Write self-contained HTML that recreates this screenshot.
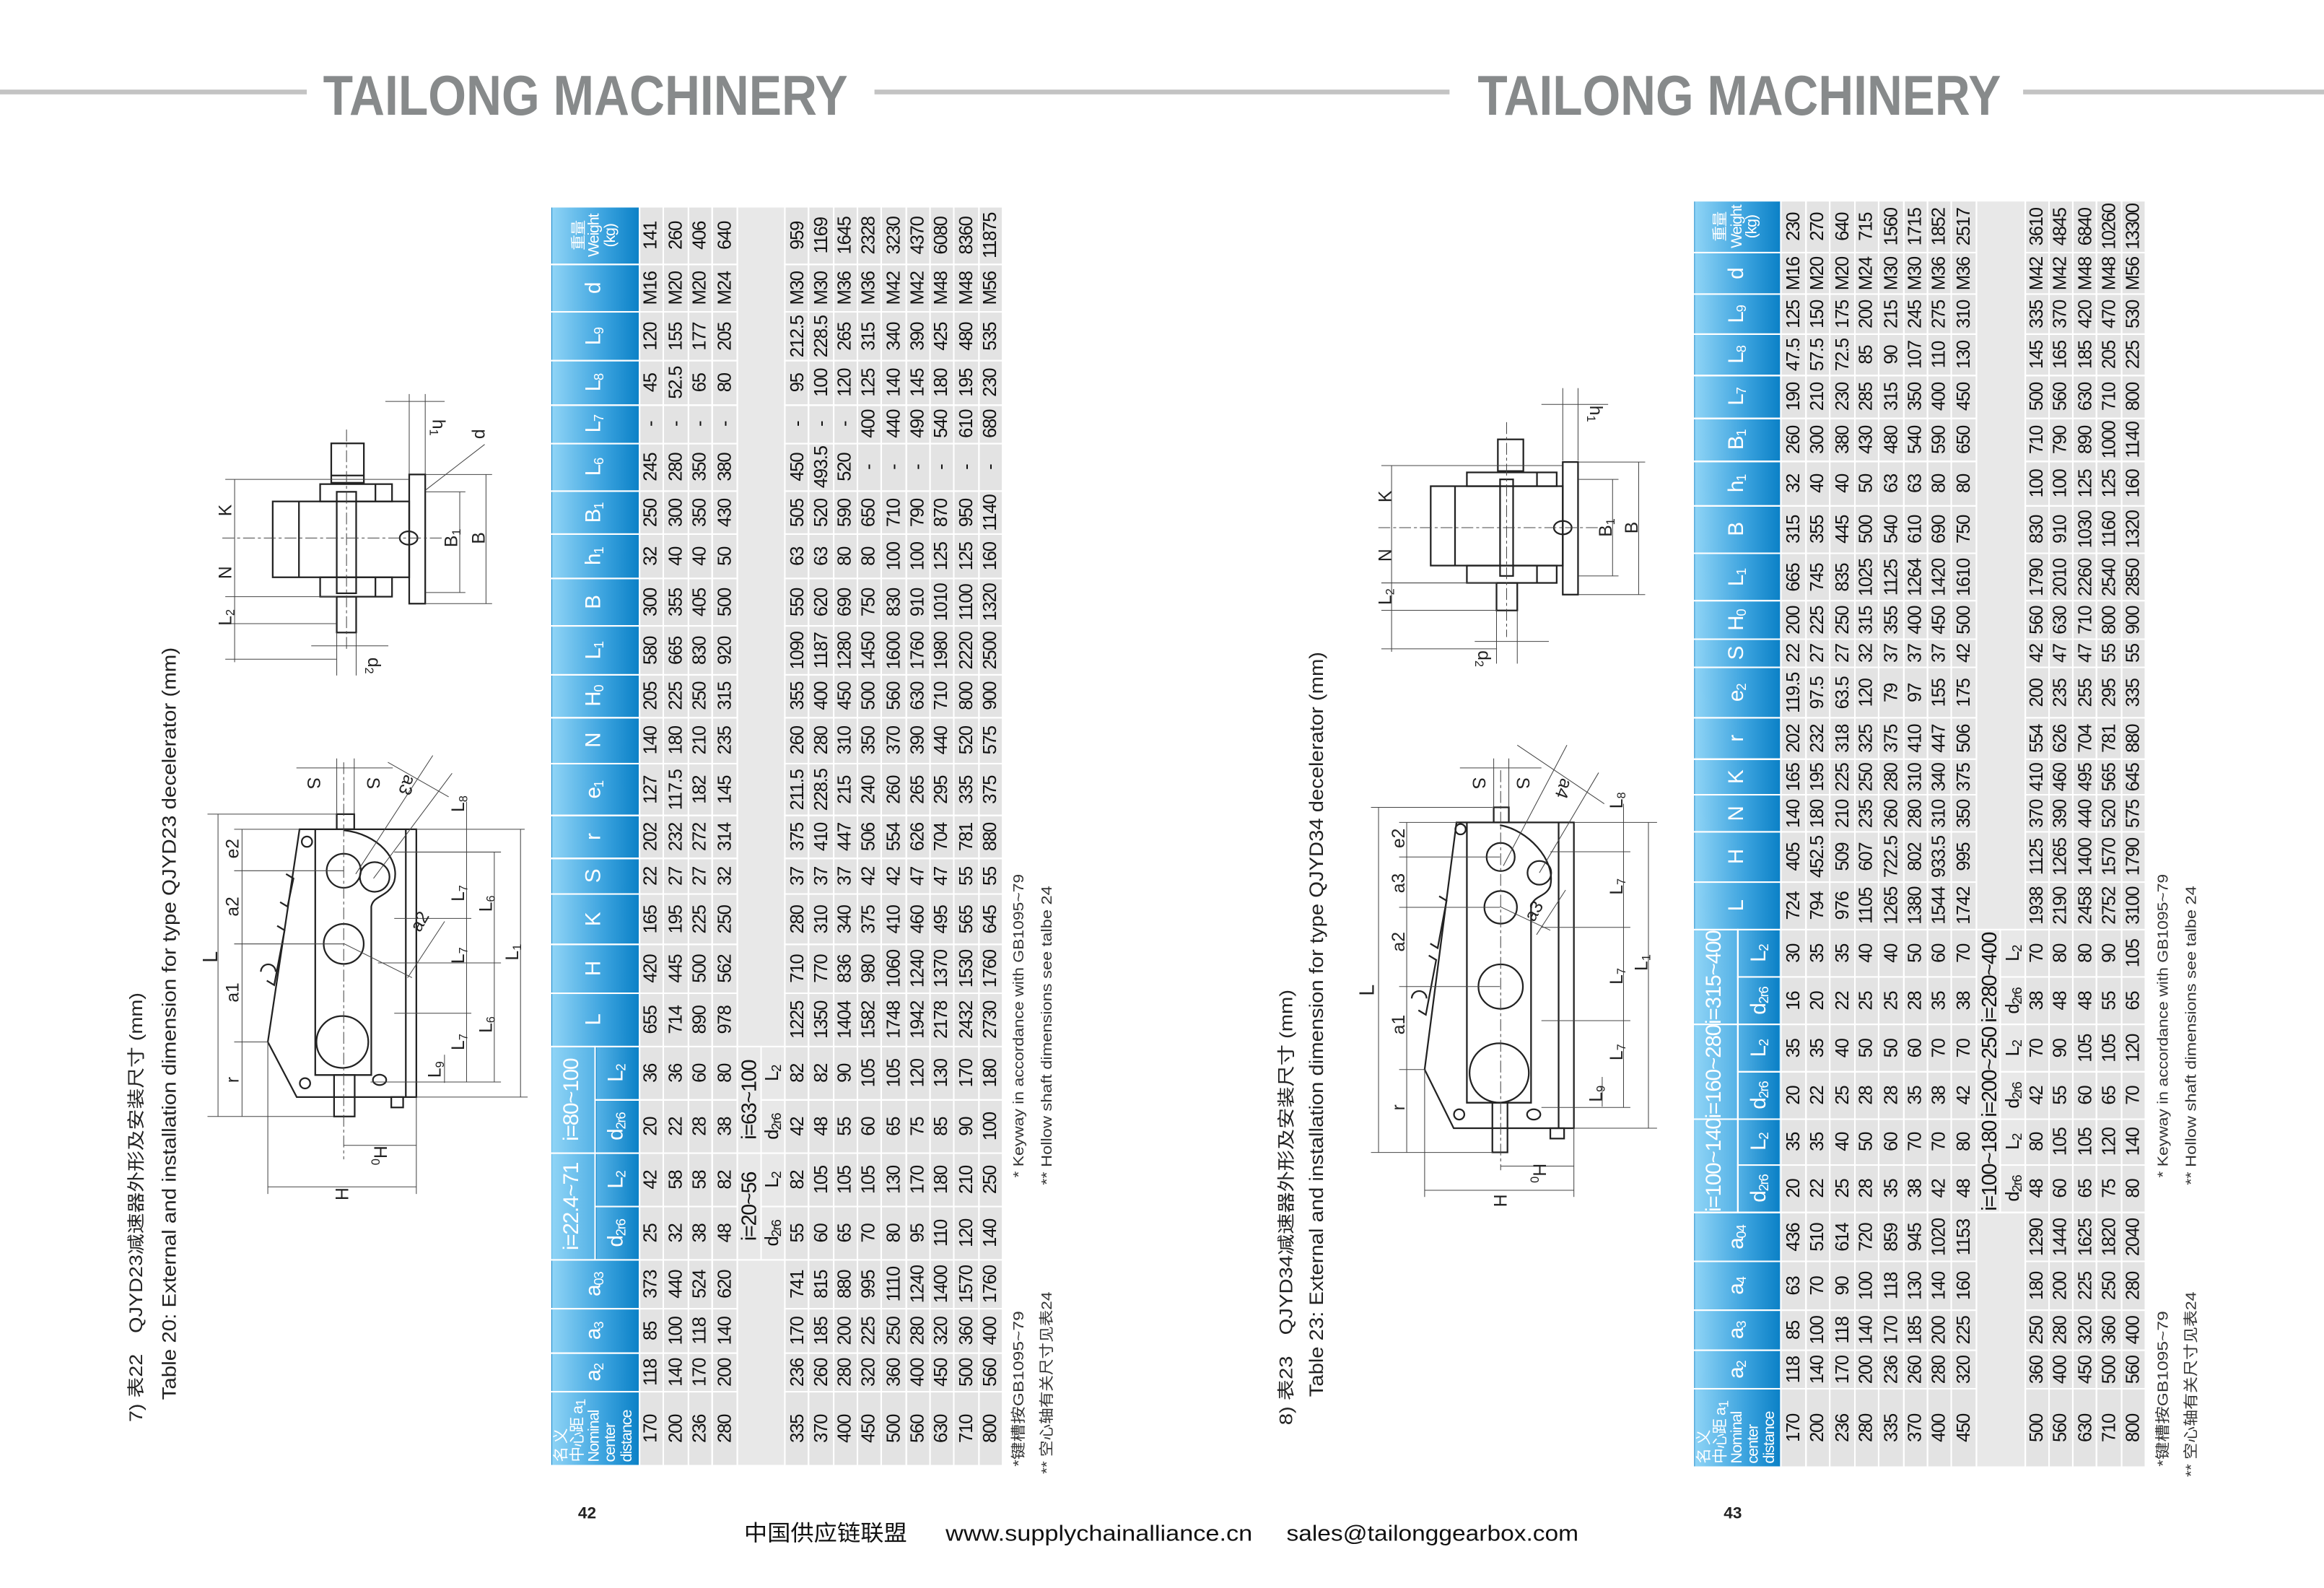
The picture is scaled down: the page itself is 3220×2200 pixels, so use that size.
<!DOCTYPE html>
<html><head><meta charset="utf-8">
<style>
html,body{margin:0;padding:0;background:#fff;}
body{width:3220px;height:2200px;overflow:hidden;position:relative;}
.wrap{position:absolute;left:0;top:0;width:1568px;height:1072px;transform-origin:0 0;transform:scale(2.05357,2.05224);font-family:"Liberation Sans","Noto Sans CJK SC",sans-serif;}
.tb{position:absolute;transform-origin:0 0;transform:rotate(-90deg);}
table{border-collapse:collapse;table-layout:fixed;font-family:"Liberation Sans","Noto Sans CJK SC",sans-serif;font-size:12.5px;color:#111;}
td,th{border:1px solid #fff;padding:0;text-align:center;vertical-align:middle;white-space:nowrap;overflow:hidden;line-height:1;letter-spacing:-0.6px;}
td{background:#e3e3e3;}
th{background:linear-gradient(#8fd4f6,#3aa2de 60%,#0a80c6);color:#fff;font-weight:normal;font-size:14.5px;}
th.t{background:linear-gradient(#8fd4f6,#55b2e6);}
th.b{background:linear-gradient(#55b2e6,#0a80c6);}
th.nm{font-size:10.5px;line-height:11px;text-align:left;padding-left:2px;letter-spacing:-0.5px;}
th.w{font-size:10.5px;line-height:10.5px;}
td.e{background:#e8e8e8;}
sub{font-size:9px;vertical-align:-2px;line-height:0;}
svg{position:absolute;left:0;top:0;}
svg text{font-family:"Liberation Sans","Noto Sans CJK SC",sans-serif;}
</style></head><body><div class="wrap">

<svg width="1568" height="1072" viewBox="0 0 1568 1072">
<g fill="#c3c3c3"><rect x="0" y="60.5" width="207" height="3.2"/><rect x="590" y="60.5" width="388" height="3.2"/><rect x="1365" y="60.5" width="203" height="3.2"/></g>
<g fill="#878a8b" font-weight="bold" font-size="38"><text x="218" y="77.5" textLength="354" lengthAdjust="spacingAndGlyphs">TAILONG MACHINERY</text><text x="997" y="77.5" textLength="353" lengthAdjust="spacingAndGlyphs">TAILONG MACHINERY</text></g>
<g fill="#111" font-size="15"><text x="502" y="1040" textLength="110" lengthAdjust="spacingAndGlyphs">中国供应链联盟</text><text x="638" y="1040" textLength="207" lengthAdjust="spacingAndGlyphs">www.supplychainalliance.cn</text><text x="868" y="1040" textLength="197" lengthAdjust="spacingAndGlyphs">sales@tailonggearbox.com</text></g>
<g fill="#222" font-size="11" font-weight="bold"><text x="390" y="1025">42</text><text x="1163" y="1025">43</text></g>
<g fill="#222">
<text transform="translate(96,960) rotate(-90)" font-size="12" textLength="290" lengthAdjust="spacingAndGlyphs">7) 表22　QJYD23减速器外形及安装尺寸 (mm)</text>
<text transform="translate(118.5,945) rotate(-90)" font-size="13" textLength="508" lengthAdjust="spacingAndGlyphs">Table 20: External and installation dimension for type QJYD23 decelerator (mm)</text>
<text transform="translate(872,962) rotate(-90)" font-size="12" textLength="294" lengthAdjust="spacingAndGlyphs">8) 表23　QJYD34减速器外形及安装尺寸 (mm)</text>
<text transform="translate(892.5,943) rotate(-90)" font-size="13" textLength="503" lengthAdjust="spacingAndGlyphs">Table 23: External and installation dimension for type QJYD34 decelerator (mm)</text>
</g>
<g fill="#333" font-size="10">
<text transform="translate(690.5,990) rotate(-90)" textLength="105" lengthAdjust="spacingAndGlyphs">*键槽按GB1095~79</text>
<text transform="translate(709.5,995) rotate(-90)" textLength="123" lengthAdjust="spacingAndGlyphs">** 空心轴有关尺寸见表24</text>
<text transform="translate(690.5,795) rotate(-90)" textLength="205" lengthAdjust="spacingAndGlyphs">* Keyway in accordance with GB1095~79</text>
<text transform="translate(709.5,800) rotate(-90)" textLength="202" lengthAdjust="spacingAndGlyphs">** Hollow shaft dimensions see talbe 24</text>
<text transform="translate(1462.5,990) rotate(-90)" textLength="105" lengthAdjust="spacingAndGlyphs">*键槽按GB1095~79</text>
<text transform="translate(1481.5,997) rotate(-90)" textLength="125" lengthAdjust="spacingAndGlyphs">** 空心轴有关尺寸见表24</text>
<text transform="translate(1462.5,795) rotate(-90)" textLength="205" lengthAdjust="spacingAndGlyphs">* Keyway in accordance with GB1095~79</text>
<text transform="translate(1481.5,800) rotate(-90)" textLength="202" lengthAdjust="spacingAndGlyphs">** Hollow shaft dimensions see talbe 24</text>
</g>

<g fill="none" stroke="#222" stroke-width="1.1">
<rect x="276.1" y="320.3" width="10.8" height="87.2"/>
<rect x="184" y="338.5" width="92.1" height="51.2"/>
<line x1="201.7" y1="338.5" x2="201.7" y2="389.7"/>
<rect x="216" y="326.8" width="48.5" height="11.7"/><line x1="253.3" y1="326.8" x2="253.3" y2="338.5"/>
<rect x="216" y="389.7" width="48.5" height="13.1"/><line x1="253.3" y1="389.7" x2="253.3" y2="402.8"/>
<rect x="227.2" y="332" width="13.1" height="68.5"/>
<rect x="223.5" y="299.3" width="22" height="26.6"/><line x1="223.5" y1="321" x2="245.5" y2="321"/>
<rect x="227.2" y="402.8" width="13.1" height="24.2"/>
<ellipse cx="275.7" cy="363.2" rx="6" ry="4.5"/>
</g>
<g fill="none" stroke="#444" stroke-width="0.5">
<line x1="150" y1="363.2" x2="300" y2="363.2" stroke-dasharray="8,2,2,2"/>
<line x1="233.8" y1="290" x2="233.8" y2="440" stroke-dasharray="8,2,2,2"/>
<line x1="158.3" y1="323.6" x2="158.3" y2="447"/>
<line x1="152" y1="323.6" x2="276" y2="323.6"/><line x1="152" y1="402.8" x2="227" y2="402.8"/><line x1="152" y1="421" x2="227" y2="421"/><line x1="152" y1="445" x2="227" y2="445"/>
<line x1="310.2" y1="332" x2="310.2" y2="400"/><line x1="287" y1="332" x2="314" y2="332"/><line x1="287" y1="400" x2="314" y2="400"/>
<line x1="327.9" y1="320.3" x2="327.9" y2="407.5"/><line x1="287" y1="320.3" x2="332" y2="320.3"/><line x1="287" y1="407.5" x2="332" y2="407.5"/>
<line x1="276.1" y1="266" x2="276.1" y2="320"/><line x1="286.9" y1="266" x2="286.9" y2="320"/><line x1="260" y1="271" x2="300" y2="271"/>
<line x1="286.9" y1="331" x2="327" y2="300"/>
<line x1="227.2" y1="427" x2="227.2" y2="456"/><line x1="240.3" y1="427" x2="240.3" y2="456"/><line x1="210" y1="436" x2="262" y2="436"/>
</g>
<g fill="#222" font-size="12">
<text transform="translate(156,344.5) rotate(-90)" text-anchor="middle">K</text>
<text transform="translate(156,386.5) rotate(-90)" text-anchor="middle">N</text>
<text transform="translate(156,416.8) rotate(-90)" text-anchor="middle">L<tspan font-size="8" dy="2">2</tspan></text>
<text transform="translate(308.6,363.2) rotate(-90)" text-anchor="middle">B<tspan font-size="8" dy="2">1</tspan></text>
<text transform="translate(327,363.2) rotate(-90)" text-anchor="middle">B</text>
<text transform="translate(292,288.6) rotate(90)" text-anchor="middle">h<tspan font-size="8" dy="2">1</tspan></text>
<text transform="translate(327,293) rotate(-90)" text-anchor="middle">d</text>
<text transform="translate(248.4,449.4) rotate(90)" text-anchor="middle">d<tspan font-size="8" dy="2">2</tspan></text>
</g>

<g fill="none" stroke="#222" stroke-width="1.1">
<path d="M202.1,559.8 L180.7,703.4 L200.2,740.6 L280.9,740.6 L280.9,559.8 Z"/>
<line x1="273.8" y1="559.8" x2="273.8" y2="740.6"/>
<path d="M212.7,559.8 V725.7 H250.5 V612 C252,604 262,606 266,595 C270,580 255,563 232,560.5"/>
<circle cx="231.9" cy="587.8" r="11.5"/><circle cx="252.8" cy="592" r="10"/><circle cx="231.9" cy="637.2" r="13.5"/><circle cx="231" cy="703.4" r="17.5"/>
<circle cx="207.1" cy="568.2" r="3.5"/><circle cx="205.8" cy="731.3" r="3.5"/><ellipse cx="256.1" cy="729" rx="4.5" ry="3.5"/>
<rect x="225.4" y="725.7" width="13.9" height="28"/><rect x="227.2" y="549.6" width="11.8" height="10.2"/>
<rect x="264" y="740.6" width="8" height="7"/>
<path d="M176,656 A5,5 0 0 1 186,656"/>
<path d="M187,625 L192,628 L185,665 L180,662"/><path d="M193,590 L198,593 L194,612 L189,609"/>
</g>
<g fill="none" stroke="#444" stroke-width="0.5">
<line x1="231.9" y1="514.6" x2="231.9" y2="782.6" stroke-dasharray="8,2,2,2"/>
<line x1="147.1" y1="549.6" x2="147.1" y2="753.7"/><line x1="140" y1="549.6" x2="227" y2="549.6"/><line x1="140" y1="753.7" x2="225" y2="753.7"/>
<line x1="163.3" y1="559.8" x2="163.3" y2="753.7"/>
<line x1="158" y1="559.8" x2="202" y2="559.8"/><line x1="158" y1="587.8" x2="232" y2="587.8"/><line x1="158" y1="637.2" x2="232" y2="637.2"/><line x1="158" y1="703.4" x2="181" y2="703.4"/>
<line x1="180.7" y1="801.2" x2="280.9" y2="801.2"/><line x1="180.7" y1="703.4" x2="180.7" y2="806"/><line x1="280.9" y1="740.6" x2="280.9" y2="806"/>
<line x1="231.9" y1="773.2" x2="280.9" y2="773.2"/>
<line x1="351.2" y1="559.8" x2="351.2" y2="740.6"/><line x1="280.9" y1="559.8" x2="354" y2="559.8"/><line x1="280.9" y1="740.6" x2="356" y2="740.6"/>
<line x1="333.5" y1="575.2" x2="333.5" y2="730.4"/><line x1="314.8" y1="541.2" x2="314.8" y2="730.4"/>
<line x1="266" y1="575.2" x2="338" y2="575.2"/><line x1="266" y1="620" x2="318" y2="620"/><line x1="255" y1="650" x2="338" y2="650"/><line x1="266" y1="684" x2="318" y2="684"/><line x1="250" y1="730.4" x2="338" y2="730.4"/>
<line x1="299.9" y1="712" x2="299.9" y2="731"/>
<line x1="200" y1="518.4" x2="265" y2="518.4"/><line x1="227.2" y1="512" x2="227.2" y2="549.6"/><line x1="239" y1="512" x2="239" y2="549.6"/>
<line x1="261.7" y1="514.6" x2="302.7" y2="537.9"/><line x1="240" y1="590" x2="292" y2="510"/><line x1="252" y1="593" x2="305" y2="522"/>
<line x1="232" y1="637" x2="278" y2="660"/><line x1="275" y1="660" x2="300" y2="622"/>
</g>
<g fill="#222" font-size="12">
<text transform="translate(146.5,646) rotate(-90)" text-anchor="middle" font-size="14">L</text>
<text transform="translate(161,572.9) rotate(-90)" text-anchor="middle">e2</text>
<text transform="translate(161,612) rotate(-90)" text-anchor="middle">a2</text>
<text transform="translate(161,670) rotate(-90)" text-anchor="middle">a1</text>
<text transform="translate(161,729) rotate(-90)" text-anchor="middle">r</text>
<text transform="translate(235,806) rotate(-90)" text-anchor="middle">H</text>
<text transform="translate(252.5,780) rotate(90)" text-anchor="middle">H<tspan font-size="8" dy="2">0</tspan></text>
<text transform="translate(349.6,642.8) rotate(-90)" text-anchor="middle">L<tspan font-size="8" dy="2">1</tspan></text>
<text transform="translate(331.9,610) rotate(-90)" text-anchor="middle">L<tspan font-size="8" dy="2">6</tspan></text>
<text transform="translate(331.9,691.7) rotate(-90)" text-anchor="middle">L<tspan font-size="8" dy="2">6</tspan></text>
<text transform="translate(313.2,603) rotate(-90)" text-anchor="middle">L<tspan font-size="8" dy="2">7</tspan></text>
<text transform="translate(313.2,645) rotate(-90)" text-anchor="middle">L<tspan font-size="8" dy="2">7</tspan></text>
<text transform="translate(313.2,703.4) rotate(-90)" text-anchor="middle">L<tspan font-size="8" dy="2">7</tspan></text>
<text transform="translate(313.2,542.6) rotate(-90)" text-anchor="middle">L<tspan font-size="8" dy="2">8</tspan></text>
<text transform="translate(297.4,722) rotate(-90)" text-anchor="middle">L<tspan font-size="8" dy="2">9</tspan></text>
<text transform="translate(207.4,528.6) rotate(90)" text-anchor="middle">S</text>
<text transform="translate(247.5,528.6) rotate(90)" text-anchor="middle">S</text>
<text transform="translate(271,528.6) rotate(110)" text-anchor="middle">a3</text>
<text transform="translate(286.6,624) rotate(-60)" text-anchor="middle">a2</text>
</g>

<g fill="none" stroke="#222" stroke-width="1.1">
<rect x="1054.4" y="311.9" width="10.3" height="89.5"/>
<rect x="965.3" y="328.2" width="89.1" height="53.6"/>
<line x1="981.7" y1="328.2" x2="981.7" y2="381.8"/>
<rect x="989.7" y="318.9" width="60.6" height="9.3"/><line x1="1037" y1="318.9" x2="1037" y2="328.2"/>
<rect x="989.7" y="381.8" width="60.6" height="11.7"/><line x1="1037" y1="381.8" x2="1037" y2="393.5"/>
<rect x="1012.1" y="323.6" width="8.8" height="65.2"/>
<rect x="1010.6" y="296.6" width="17.2" height="21.4"/>
<rect x="1009.7" y="393.5" width="14" height="18.6"/>
<ellipse cx="1054.4" cy="356.2" rx="6" ry="4.5"/>
</g>
<g fill="none" stroke="#444" stroke-width="0.5">
<line x1="930" y1="356.2" x2="1080" y2="356.2" stroke-dasharray="8,2,2,2"/>
<line x1="1016.5" y1="285" x2="1016.5" y2="430" stroke-dasharray="8,2,2,2"/>
<line x1="938.9" y1="314.3" x2="938.9" y2="440"/>
<line x1="932" y1="314.3" x2="1054" y2="314.3"/><line x1="932" y1="393.5" x2="1010" y2="393.5"/><line x1="932" y1="412" x2="1010" y2="412"/><line x1="932" y1="438" x2="1010" y2="438"/>
<line x1="1088" y1="323.6" x2="1088" y2="388.8"/><line x1="1065" y1="323.6" x2="1092" y2="323.6"/><line x1="1065" y1="388.8" x2="1092" y2="388.8"/>
<line x1="1105.6" y1="311.9" x2="1105.6" y2="401.4"/><line x1="1065" y1="311.9" x2="1110" y2="311.9"/><line x1="1065" y1="401.4" x2="1110" y2="401.4"/>
<line x1="1054.4" y1="262" x2="1054.4" y2="311"/><line x1="1064.7" y1="262" x2="1064.7" y2="311"/><line x1="1040" y1="273" x2="1085" y2="273"/>
<line x1="1009.7" y1="412" x2="1009.7" y2="448"/><line x1="1023.7" y1="412" x2="1023.7" y2="448"/><line x1="995" y1="433" x2="1045" y2="433"/>
</g>
<g fill="#222" font-size="12">
<text transform="translate(938.5,335.2) rotate(-90)" text-anchor="middle">K</text>
<text transform="translate(938.5,374.8) rotate(-90)" text-anchor="middle">N</text>
<text transform="translate(938.5,402.8) rotate(-90)" text-anchor="middle">L<tspan font-size="8" dy="2">2</tspan></text>
<text transform="translate(1087.3,356.2) rotate(-90)" text-anchor="middle">B<tspan font-size="8" dy="2">1</tspan></text>
<text transform="translate(1105,356.2) rotate(-90)" text-anchor="middle">B</text>
<text transform="translate(1072.8,279.3) rotate(90)" text-anchor="middle">h<tspan font-size="8" dy="2">1</tspan></text>
<text transform="translate(997.3,444.7) rotate(90)" text-anchor="middle">d<tspan font-size="8" dy="2">2</tspan></text>
</g>

<g fill="none" stroke="#222" stroke-width="1.1">
<path d="M982.7,555.2 L961.2,722 L980.8,761.6 L1061.9,761.6 L1061.9,555.2 Z"/>
<line x1="1051.6" y1="555.2" x2="1051.6" y2="761.6"/>
<path d="M989.7,555.2 V744.4 H1033 V612 C1035,604 1043,606 1046,598 C1050,580 1030,560 1012,557"/>
<circle cx="1012.5" cy="578.5" r="9.5"/><circle cx="1038.6" cy="589.2" r="8"/><circle cx="1012.5" cy="612.5" r="11"/><circle cx="1012.5" cy="666" r="15"/><circle cx="1011.5" cy="724.3" r="20"/>
<circle cx="985.4" cy="559.8" r="3.5"/><circle cx="984.5" cy="752.3" r="3.5"/><ellipse cx="1034.8" cy="752.3" rx="4.5" ry="3.5"/>
<rect x="1006.9" y="744.4" width="10.2" height="33.5"/><rect x="1007.8" y="545" width="10.2" height="10.2"/>
<rect x="1046" y="761.6" width="9.3" height="7"/>
<path d="M952.5,674 A5,5 0 0 1 962.5,674"/>
<path d="M964,645 L969,648 L962,685 L957,682"/><path d="M971,605 L976,608 L970,640 L965,637"/>
</g>
<g fill="none" stroke="#444" stroke-width="0.5">
<line x1="1012.5" y1="520" x2="1012.5" y2="790" stroke-dasharray="8,2,2,2"/>
<line x1="930.1" y1="545" x2="930.1" y2="778"/><line x1="925" y1="545" x2="1007" y2="545"/><line x1="925" y1="778" x2="1007" y2="778"/>
<line x1="949.1" y1="555.2" x2="949.1" y2="778"/>
<line x1="944" y1="555.2" x2="983" y2="555.2"/><line x1="944" y1="578.5" x2="1012" y2="578.5"/><line x1="944" y1="612.5" x2="1012" y2="612.5"/><line x1="944" y1="666" x2="1012" y2="666"/><line x1="944" y1="722" x2="962" y2="722"/>
<line x1="961.2" y1="803.5" x2="1061.9" y2="803.5"/><line x1="961.2" y1="722" x2="961.2" y2="808"/><line x1="1061.9" y1="761.6" x2="1061.9" y2="808"/>
<line x1="1012.5" y1="787.2" x2="1061.9" y2="787.2"/>
<line x1="1112.2" y1="555.2" x2="1112.2" y2="761.6"/><line x1="1062" y1="555.2" x2="1118" y2="555.2"/><line x1="1062" y1="761.6" x2="1118" y2="761.6"/>
<line x1="1095.4" y1="542.6" x2="1095.4" y2="747.6"/>
<line x1="1040" y1="626" x2="1100" y2="626"/><line x1="1040" y1="689" x2="1100" y2="689"/><line x1="1040" y1="747.6" x2="1100" y2="747.6"/><line x1="1046" y1="575" x2="1100" y2="575"/>
<line x1="1081" y1="727" x2="1081" y2="747"/>
<line x1="985" y1="518.4" x2="1040" y2="518.4"/><line x1="1007.8" y1="512" x2="1007.8" y2="545"/><line x1="1018" y1="512" x2="1018" y2="545"/>
<line x1="1023.7" y1="503" x2="1082.4" y2="542.6"/><line x1="1057.2" y1="503" x2="1014.3" y2="584.5"/><line x1="1078.6" y1="521.6" x2="1038.6" y2="589.2"/>
<line x1="1056.3" y1="600.8" x2="1036.7" y2="631"/><line x1="1012" y1="612" x2="1046" y2="628"/>
</g>
<g fill="#222" font-size="12">
<text transform="translate(927,668.4) rotate(-90)" text-anchor="middle" font-size="14">L</text>
<text transform="translate(947.5,565.9) rotate(-90)" text-anchor="middle">e2</text>
<text transform="translate(947.5,596.2) rotate(-90)" text-anchor="middle">a3</text>
<text transform="translate(947.5,635.8) rotate(-90)" text-anchor="middle">a2</text>
<text transform="translate(947.5,691.7) rotate(-90)" text-anchor="middle">a1</text>
<text transform="translate(947.5,747.6) rotate(-90)" text-anchor="middle">r</text>
<text transform="translate(1016.5,810.5) rotate(-90)" text-anchor="middle">H</text>
<text transform="translate(1034.6,792) rotate(90)" text-anchor="middle">H<tspan font-size="8" dy="2">0</tspan></text>
<text transform="translate(1111.5,649.8) rotate(-90)" text-anchor="middle">L<tspan font-size="8" dy="2">1</tspan></text>
<text transform="translate(1094.7,598.5) rotate(-90)" text-anchor="middle">L<tspan font-size="8" dy="2">7</tspan></text>
<text transform="translate(1094.7,659) rotate(-90)" text-anchor="middle">L<tspan font-size="8" dy="2">7</tspan></text>
<text transform="translate(1094.7,710.3) rotate(-90)" text-anchor="middle">L<tspan font-size="8" dy="2">7</tspan></text>
<text transform="translate(1094.7,540.3) rotate(-90)" text-anchor="middle">L<tspan font-size="8" dy="2">8</tspan></text>
<text transform="translate(1080.8,738.3) rotate(-90)" text-anchor="middle">L<tspan font-size="8" dy="2">9</tspan></text>
<text transform="translate(993.6,528.6) rotate(90)" text-anchor="middle">S</text>
<text transform="translate(1023.4,528.6) rotate(90)" text-anchor="middle">S</text>
<text transform="translate(1051.3,531) rotate(110)" text-anchor="middle">a4</text>
<text transform="translate(1038.3,617) rotate(-60)" text-anchor="middle">a3</text>
</g>
</svg>

<div class="tb" style="left:370.6px;top:990px;width:850px;height:305px;">
<table style="width:850px">
<colgroup><col style="width:50px"><col style="width:26px"><col style="width:30px"><col style="width:33px"><col style="width:36px"><col style="width:36px"><col style="width:36px"><col style="width:36px"><col style="width:36px"><col style="width:33px"><col style="width:33.5px"><col style="width:24.9px"><col style="width:28.2px"><col style="width:35.4px"><col style="width:31.4px"><col style="width:28.6px"><col style="width:32.6px"><col style="width:32.6px"><col style="width:29.5px"><col style="width:29.2px"><col style="width:32.6px"><col style="width:25.8px"><col style="width:29.8px"><col style="width:32.6px"><col style="width:32.6px"><col style="width:38.5px"></colgroup>
<tr style="height:30px"><th rowspan="2" class="nm">名 义<br>中心距 a<sub>1</sub><br>Nominal<br>center<br>distance</th><th rowspan="2">a<sub>2</sub></th><th rowspan="2">a<sub>3</sub></th><th rowspan="2">a<sub>03</sub></th><th colspan="2" class="t">i=22.4~71</th><th colspan="2" class="t">i=80~100</th><th rowspan="2">L</th><th rowspan="2">H</th><th rowspan="2">K</th><th rowspan="2">S</th><th rowspan="2">r</th><th rowspan="2">e<sub>1</sub></th><th rowspan="2">N</th><th rowspan="2">H<sub>0</sub></th><th rowspan="2">L<sub>1</sub></th><th rowspan="2">B</th><th rowspan="2">h<sub>1</sub></th><th rowspan="2">B<sub>1</sub></th><th rowspan="2">L<sub>6</sub></th><th rowspan="2">L<sub>7</sub></th><th rowspan="2">L<sub>8</sub></th><th rowspan="2">L<sub>9</sub></th><th rowspan="2">d</th><th rowspan="2" class="w">重量<br>Weight<br>(kg)</th></tr>
<tr style="height:30px"><th class="b">d<sub>2r6</sub></th><th class="b">L<sub>2</sub></th><th class="b">d<sub>2r6</sub></th><th class="b">L<sub>2</sub></th></tr>
<tr style="height:16.4px"><td>170</td><td>118</td><td>85</td><td>373</td><td>25</td><td>42</td><td>20</td><td>36</td><td>655</td><td>420</td><td>165</td><td>22</td><td>202</td><td>127</td><td>140</td><td>205</td><td>580</td><td>300</td><td>32</td><td>250</td><td>245</td><td>-</td><td>45</td><td>120</td><td>M16</td><td>141</td></tr>
<tr style="height:16.4px"><td>200</td><td>140</td><td>100</td><td>440</td><td>32</td><td>58</td><td>22</td><td>36</td><td>714</td><td>445</td><td>195</td><td>27</td><td>232</td><td>117.5</td><td>180</td><td>225</td><td>665</td><td>355</td><td>40</td><td>300</td><td>280</td><td>-</td><td>52.5</td><td>155</td><td>M20</td><td>260</td></tr>
<tr style="height:16.4px"><td>236</td><td>170</td><td>118</td><td>524</td><td>38</td><td>58</td><td>28</td><td>60</td><td>890</td><td>500</td><td>225</td><td>27</td><td>272</td><td>182</td><td>210</td><td>250</td><td>830</td><td>405</td><td>40</td><td>350</td><td>350</td><td>-</td><td>65</td><td>177</td><td>M20</td><td>406</td></tr>
<tr style="height:16.4px"><td>280</td><td>200</td><td>140</td><td>620</td><td>48</td><td>82</td><td>38</td><td>80</td><td>978</td><td>562</td><td>250</td><td>32</td><td>314</td><td>145</td><td>235</td><td>315</td><td>920</td><td>500</td><td>50</td><td>430</td><td>380</td><td>-</td><td>80</td><td>205</td><td>M24</td><td>640</td></tr>
<tr style="height:16.3px"><td colspan="4" rowspan="2" class="e"></td><td colspan="2" class="e" style="font-size:14px">i=20~56</td><td colspan="2" class="e" style="font-size:14px">i=63~100</td><td colspan="18" rowspan="2" class="e"></td></tr>
<tr style="height:16.3px"><td class="e">d<sub>2r6</sub></td><td class="e">L<sub>2</sub></td><td class="e">d<sub>2r6</sub></td><td class="e">L<sub>2</sub></td></tr>
<tr style="height:16.3px"><td>335</td><td>236</td><td>170</td><td>741</td><td>55</td><td>82</td><td>42</td><td>82</td><td>1225</td><td>710</td><td>280</td><td>37</td><td>375</td><td>211.5</td><td>260</td><td>355</td><td>1090</td><td>550</td><td>63</td><td>505</td><td>450</td><td>-</td><td>95</td><td>212.5</td><td>M30</td><td>959</td></tr>
<tr style="height:16.3px"><td>370</td><td>260</td><td>185</td><td>815</td><td>60</td><td>105</td><td>48</td><td>82</td><td>1350</td><td>770</td><td>310</td><td>37</td><td>410</td><td>228.5</td><td>280</td><td>400</td><td>1187</td><td>620</td><td>63</td><td>520</td><td>493.5</td><td>-</td><td>100</td><td>228.5</td><td>M30</td><td>1169</td></tr>
<tr style="height:16.3px"><td>400</td><td>280</td><td>200</td><td>880</td><td>65</td><td>105</td><td>55</td><td>90</td><td>1404</td><td>836</td><td>340</td><td>37</td><td>447</td><td>215</td><td>310</td><td>450</td><td>1280</td><td>690</td><td>80</td><td>590</td><td>520</td><td>-</td><td>120</td><td>265</td><td>M36</td><td>1645</td></tr>
<tr style="height:16.3px"><td>450</td><td>320</td><td>225</td><td>995</td><td>70</td><td>105</td><td>60</td><td>105</td><td>1582</td><td>980</td><td>375</td><td>42</td><td>506</td><td>240</td><td>350</td><td>500</td><td>1450</td><td>750</td><td>80</td><td>650</td><td>-</td><td>400</td><td>125</td><td>315</td><td>M36</td><td>2328</td></tr>
<tr style="height:16.3px"><td>500</td><td>360</td><td>250</td><td>1110</td><td>80</td><td>130</td><td>65</td><td>105</td><td>1748</td><td>1060</td><td>410</td><td>42</td><td>554</td><td>260</td><td>370</td><td>560</td><td>1600</td><td>830</td><td>100</td><td>710</td><td>-</td><td>440</td><td>140</td><td>340</td><td>M42</td><td>3230</td></tr>
<tr style="height:16.3px"><td>560</td><td>400</td><td>280</td><td>1240</td><td>95</td><td>170</td><td>75</td><td>120</td><td>1942</td><td>1240</td><td>460</td><td>47</td><td>626</td><td>265</td><td>390</td><td>630</td><td>1760</td><td>910</td><td>100</td><td>790</td><td>-</td><td>490</td><td>145</td><td>390</td><td>M42</td><td>4370</td></tr>
<tr style="height:16.3px"><td>630</td><td>450</td><td>320</td><td>1400</td><td>110</td><td>180</td><td>85</td><td>130</td><td>2178</td><td>1370</td><td>495</td><td>47</td><td>704</td><td>295</td><td>440</td><td>710</td><td>1980</td><td>1010</td><td>125</td><td>870</td><td>-</td><td>540</td><td>180</td><td>425</td><td>M48</td><td>6080</td></tr>
<tr style="height:16.3px"><td>710</td><td>500</td><td>360</td><td>1570</td><td>120</td><td>210</td><td>90</td><td>170</td><td>2432</td><td>1530</td><td>565</td><td>55</td><td>781</td><td>335</td><td>520</td><td>800</td><td>2220</td><td>1100</td><td>125</td><td>950</td><td>-</td><td>610</td><td>195</td><td>480</td><td>M48</td><td>8360</td></tr>
<tr style="height:16.3px"><td>800</td><td>560</td><td>400</td><td>1760</td><td>140</td><td>250</td><td>100</td><td>180</td><td>2730</td><td>1760</td><td>645</td><td>55</td><td>880</td><td>375</td><td>575</td><td>900</td><td>2500</td><td>1320</td><td>160</td><td>1140</td><td>-</td><td>680</td><td>230</td><td>535</td><td>M56</td><td>11875</td></tr>
</table></div>

<div class="tb" style="left:1141.9px;top:991.3px;width:855.1px;height:305.2px;">
<table style="width:855.1px">
<colgroup><col style="width:52.9px"><col style="width:25.8px"><col style="width:27.6px"><col style="width:32.3px"><col style="width:33.3px"><col style="width:32.6px"><col style="width:30.5px"><col style="width:32.1px"><col style="width:31.5px"><col style="width:32.6px"><col style="width:31.5px"><col style="width:32.8px"><col style="width:33.2px"><col style="width:24.9px"><col style="width:24.5px"><col style="width:27.7px"><col style="width:34.1px"><col style="width:19.3px"><col style="width:25.4px"><col style="width:32.3px"><col style="width:32.7px"><col style="width:29.1px"><col style="width:29.9px"><col style="width:28.5px"><col style="width:28px"><col style="width:26.7px"><col style="width:28.2px"><col style="width:35.1px"></colgroup>
<tr style="height:29.7px"><th rowspan="2" class="nm">名 义<br>中心距 a<sub>1</sub><br>Nominal<br>center<br>distance</th><th rowspan="2">a<sub>2</sub></th><th rowspan="2">a<sub>3</sub></th><th rowspan="2">a<sub>4</sub></th><th rowspan="2">a<sub>04</sub></th><th colspan="2" class="t">i=100~140</th><th colspan="2" class="t">i=160~280</th><th colspan="2" class="t">i=315~400</th><th rowspan="2">L</th><th rowspan="2">H</th><th rowspan="2">N</th><th rowspan="2">K</th><th rowspan="2">r</th><th rowspan="2">e<sub>2</sub></th><th rowspan="2">S</th><th rowspan="2">H<sub>0</sub></th><th rowspan="2">L<sub>1</sub></th><th rowspan="2">B</th><th rowspan="2">h<sub>1</sub></th><th rowspan="2">B<sub>1</sub></th><th rowspan="2">L<sub>7</sub></th><th rowspan="2">L<sub>8</sub></th><th rowspan="2">L<sub>9</sub></th><th rowspan="2">d</th><th rowspan="2" class="w">重量<br>Weight<br>(kg)</th></tr>
<tr style="height:29.7px"><th class="b">d<sub>2r6</sub></th><th class="b">L<sub>2</sub></th><th class="b">d<sub>2r6</sub></th><th class="b">L<sub>2</sub></th><th class="b">d<sub>2r6</sub></th><th class="b">L<sub>2</sub></th></tr>
<tr style="height:16.45px"><td>170</td><td>118</td><td>85</td><td>63</td><td>436</td><td>20</td><td>35</td><td>20</td><td>35</td><td>16</td><td>30</td><td>724</td><td>405</td><td>140</td><td>165</td><td>202</td><td>119.5</td><td>22</td><td>200</td><td>665</td><td>315</td><td>32</td><td>260</td><td>190</td><td>47.5</td><td>125</td><td>M16</td><td>230</td></tr>
<tr style="height:16.45px"><td>200</td><td>140</td><td>100</td><td>70</td><td>510</td><td>22</td><td>35</td><td>22</td><td>35</td><td>20</td><td>35</td><td>794</td><td>452.5</td><td>180</td><td>195</td><td>232</td><td>97.5</td><td>27</td><td>225</td><td>745</td><td>355</td><td>40</td><td>300</td><td>210</td><td>57.5</td><td>150</td><td>M20</td><td>270</td></tr>
<tr style="height:16.45px"><td>236</td><td>170</td><td>118</td><td>90</td><td>614</td><td>25</td><td>40</td><td>25</td><td>40</td><td>22</td><td>35</td><td>976</td><td>509</td><td>210</td><td>225</td><td>318</td><td>63.5</td><td>27</td><td>250</td><td>835</td><td>445</td><td>40</td><td>380</td><td>230</td><td>72.5</td><td>175</td><td>M20</td><td>640</td></tr>
<tr style="height:16.45px"><td>280</td><td>200</td><td>140</td><td>100</td><td>720</td><td>28</td><td>50</td><td>28</td><td>50</td><td>25</td><td>40</td><td>1105</td><td>607</td><td>235</td><td>250</td><td>325</td><td>120</td><td>32</td><td>315</td><td>1025</td><td>500</td><td>50</td><td>430</td><td>285</td><td>85</td><td>200</td><td>M24</td><td>715</td></tr>
<tr style="height:16.45px"><td>335</td><td>236</td><td>170</td><td>118</td><td>859</td><td>35</td><td>60</td><td>28</td><td>50</td><td>25</td><td>40</td><td>1265</td><td>722.5</td><td>260</td><td>280</td><td>375</td><td>79</td><td>37</td><td>355</td><td>1125</td><td>540</td><td>63</td><td>480</td><td>315</td><td>90</td><td>215</td><td>M30</td><td>1560</td></tr>
<tr style="height:16.45px"><td>370</td><td>260</td><td>185</td><td>130</td><td>945</td><td>38</td><td>70</td><td>35</td><td>60</td><td>28</td><td>50</td><td>1380</td><td>802</td><td>280</td><td>310</td><td>410</td><td>97</td><td>37</td><td>400</td><td>1264</td><td>610</td><td>63</td><td>540</td><td>350</td><td>107</td><td>245</td><td>M30</td><td>1715</td></tr>
<tr style="height:16.45px"><td>400</td><td>280</td><td>200</td><td>140</td><td>1020</td><td>42</td><td>70</td><td>38</td><td>70</td><td>35</td><td>60</td><td>1544</td><td>933.5</td><td>310</td><td>340</td><td>447</td><td>155</td><td>37</td><td>450</td><td>1420</td><td>690</td><td>80</td><td>590</td><td>400</td><td>110</td><td>275</td><td>M36</td><td>1852</td></tr>
<tr style="height:16.45px"><td>450</td><td>320</td><td>225</td><td>160</td><td>1153</td><td>48</td><td>80</td><td>42</td><td>70</td><td>38</td><td>70</td><td>1742</td><td>995</td><td>350</td><td>375</td><td>506</td><td>175</td><td>42</td><td>500</td><td>1610</td><td>750</td><td>80</td><td>650</td><td>450</td><td>130</td><td>310</td><td>M36</td><td>2517</td></tr>
<tr style="height:16.4px"><td colspan="5" rowspan="2" class="e"></td><td colspan="2" class="e" style="font-size:14px">i=100~180</td><td colspan="2" class="e" style="font-size:14px">i=200~250</td><td colspan="2" class="e" style="font-size:14px">i=280~400</td><td colspan="17" rowspan="2" class="e"></td></tr>
<tr style="height:16.4px"><td class="e">d<sub>2r6</sub></td><td class="e">L<sub>2</sub></td><td class="e">d<sub>2r6</sub></td><td class="e">L<sub>2</sub></td><td class="e">d<sub>2r6</sub></td><td class="e">L<sub>2</sub></td></tr>
<tr style="height:16.28px"><td>500</td><td>360</td><td>250</td><td>180</td><td>1290</td><td>48</td><td>80</td><td>42</td><td>70</td><td>38</td><td>70</td><td>1938</td><td>1125</td><td>370</td><td>410</td><td>554</td><td>200</td><td>42</td><td>560</td><td>1790</td><td>830</td><td>100</td><td>710</td><td>500</td><td>145</td><td>335</td><td>M42</td><td>3610</td></tr>
<tr style="height:16.28px"><td>560</td><td>400</td><td>280</td><td>200</td><td>1440</td><td>60</td><td>105</td><td>55</td><td>90</td><td>48</td><td>80</td><td>2190</td><td>1265</td><td>390</td><td>460</td><td>626</td><td>235</td><td>47</td><td>630</td><td>2010</td><td>910</td><td>100</td><td>790</td><td>560</td><td>165</td><td>370</td><td>M42</td><td>4845</td></tr>
<tr style="height:16.28px"><td>630</td><td>450</td><td>320</td><td>225</td><td>1625</td><td>65</td><td>105</td><td>60</td><td>105</td><td>48</td><td>80</td><td>2458</td><td>1400</td><td>440</td><td>495</td><td>704</td><td>255</td><td>47</td><td>710</td><td>2260</td><td>1030</td><td>125</td><td>890</td><td>630</td><td>185</td><td>420</td><td>M48</td><td>6840</td></tr>
<tr style="height:16.28px"><td>710</td><td>500</td><td>360</td><td>250</td><td>1820</td><td>75</td><td>120</td><td>65</td><td>105</td><td>55</td><td>90</td><td>2752</td><td>1570</td><td>520</td><td>565</td><td>781</td><td>295</td><td>55</td><td>800</td><td>2540</td><td>1160</td><td>125</td><td>1000</td><td>710</td><td>205</td><td>470</td><td>M48</td><td style="letter-spacing:-0.8px">10260</td></tr>
<tr style="height:16.28px"><td>800</td><td>560</td><td>400</td><td>280</td><td>2040</td><td>80</td><td>140</td><td>70</td><td>120</td><td>65</td><td>105</td><td>3100</td><td>1790</td><td>575</td><td>645</td><td>880</td><td>335</td><td>55</td><td>900</td><td>2850</td><td>1320</td><td>160</td><td>1140</td><td>800</td><td>225</td><td>530</td><td>M56</td><td style="letter-spacing:-0.8px">13300</td></tr>
</table></div>

</div></body></html>
